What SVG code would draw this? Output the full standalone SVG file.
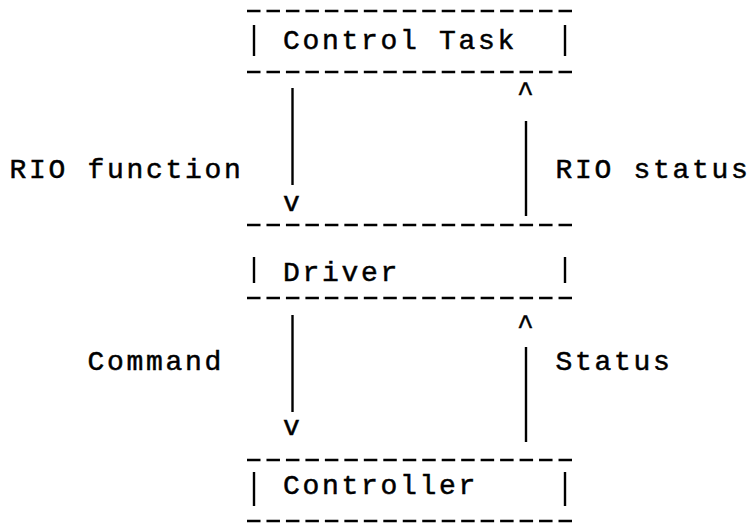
<svg xmlns="http://www.w3.org/2000/svg" width="751" height="524" viewBox="0 0 751 524">
<style>
text{font-family:"Liberation Mono","DejaVu Sans Mono",monospace;font-size:28px;letter-spacing:2.7px;fill:#000;stroke:#000;stroke-width:0.5}
.dash{stroke:#000;stroke-width:2.6;stroke-dasharray:13.5 5.97;fill:none}
.bar{stroke:#000;stroke-width:2.4;fill:none}
.conn{stroke:#000;stroke-width:2.4;fill:none}
</style>
<rect width="751" height="524" fill="#fff"/>
<g id="control-task">
<line class="dash" x1="247" y1="11" x2="572" y2="11"/>
<line class="bar" x1="254" y1="25" x2="254" y2="56"/>
<text x="283" y="49">Control Task</text>
<line class="bar" x1="565" y1="25" x2="565" y2="56"/>
<line class="dash" x1="247" y1="72" x2="572" y2="72"/>
</g>
<g id="driver">
<line class="dash" x1="247" y1="225" x2="572" y2="225"/>
<line class="bar" x1="254" y1="257" x2="254" y2="283"/>
<text x="283" y="281">Driver</text>
<line class="bar" x1="565" y1="257" x2="565" y2="283"/>
<line class="dash" x1="247" y1="298" x2="572" y2="298"/>
</g>
<g id="controller">
<line class="dash" x1="247" y1="460" x2="572" y2="460"/>
<line class="bar" x1="254" y1="472" x2="254" y2="506"/>
<text x="283" y="494">Controller</text>
<line class="bar" x1="565" y1="472" x2="565" y2="506"/>
<line class="dash" x1="247" y1="521" x2="572" y2="521"/>
</g>
<g id="connectors">
<line class="conn" x1="292.5" y1="88" x2="292.5" y2="185"/>
<text x="283" y="211">v</text>
<line class="conn" x1="526" y1="121" x2="526" y2="216"/>
<text x="517" y="101">^</text>
<text x="9.5" y="178">RIO function</text>
<text x="555.5" y="178">RIO status</text>
<line class="conn" x1="292.5" y1="315" x2="292.5" y2="412"/>
<text x="283" y="435">v</text>
<line class="conn" x1="526" y1="347" x2="526" y2="442"/>
<text x="517" y="334">^</text>
<text x="87.5" y="370">Command</text>
<text x="555.5" y="370">Status</text>
</g>
</svg>
